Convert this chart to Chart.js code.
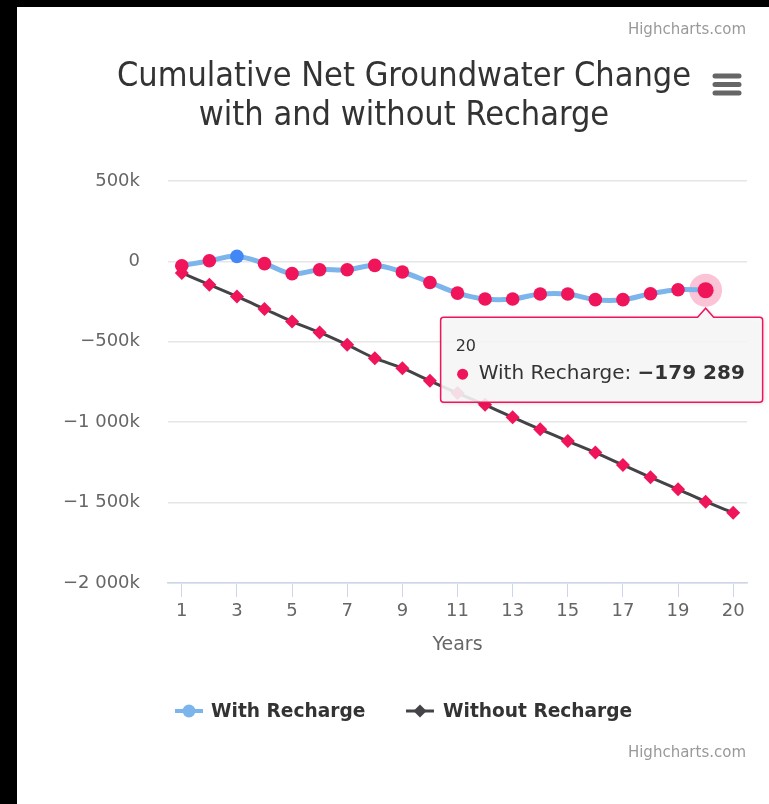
<!DOCTYPE html>
<html>
<head>
<meta charset="utf-8">
<title>Cumulative Net Groundwater Change</title>
<script src="https://cdn.jsdelivr.net/npm/chart.js@4/dist/chart.umd.min.js"></script>
<style>
  html, body { margin: 0; padding: 0; background: #000; width: 769px; height: 804px; overflow: hidden; }
  #wrap { position: absolute; left: 17px; top: 7px; width: 752px; height: 797px; background: #fff; }
  canvas { display: block; }
</style>
</head>
<body>
<div id="wrap"><canvas id="chart" width="752" height="797"></canvas></div>
<script>
// Year categories (index 20 has no category, so the axis shows its raw index)
const years = ['1','2','3','4','5','6','7','8','9','10','11','12','13','14','15','16','17','18','19','20'];

// Cumulative net change, in cubic units
const withRecharge = [-27000, 4000, 31000, -14000, -76000, -52000, -52000, -25000, -66000, -131000,
                      -197000, -234000, -234000, -203000, -203000, -238000, -238000, -201000, -176000, -179289];
const withoutRecharge = [-72000, -145000, -218000, -296000, -374000, -442000, -519000, -602000, -664000, -743000,
                         -819000, -892000, -969000, -1044000, -1117000, -1189000, -1266000, -1343000, -1417000, -1494000, -1563000];

const yTickValues = [500000, 0, -500000, -1000000, -1500000, -2000000];
const xTickValues = [0, 2, 4, 6, 8, 10, 12, 14, 16, 18, 20];

const titleLines = ['Cumulative Net Groundwater Change', 'with and without Recharge'];
const seriesNames = ['With Recharge', 'Without Recharge'];
const axisTitle = 'Years';
const creditText = 'Highcharts.com';

const selectedIndex = 2;   // point drawn in the "selected" blue
const hoverIndex = 19;     // point with the open tooltip

const PINK = '#f0145a';
const BLUE_LINE = '#7cb5ec';
const DARK_LINE = '#434348';
const FONT = '"DejaVu Sans", Verdana, sans-serif';

function groupDigits(n) {
  return String(n).replace(/\B(?=(\d{3})+(?!\d))/g, ' ');
}
function formatK(v) {
  if (v === 0) return '0';
  return (v < 0 ? '\u2212' : '') + groupDigits(Math.abs(v) / 1000) + 'k';
}
function formatFull(v) {
  return (v < 0 ? '\u2212' : '') + groupDigits(Math.abs(v));
}
function xLabel(i) {
  return i < years.length ? years[i] : String(i);
}

function roundedCallout(c, bx, by, bw, bh, r, ax, ay) {
  c.beginPath();
  c.moveTo(bx + r, by);
  c.lineTo(ax - 8, by);
  c.lineTo(ax, ay);
  c.lineTo(ax + 8, by);
  c.lineTo(bx + bw - r, by);
  c.arcTo(bx + bw, by, bx + bw, by + r, r);
  c.lineTo(bx + bw, by + bh - r);
  c.arcTo(bx + bw, by + bh, bx + bw - r, by + bh, r);
  c.lineTo(bx + r, by + bh);
  c.arcTo(bx, by + bh, bx, by + bh - r, r);
  c.lineTo(bx, by + r);
  c.arcTo(bx, by, bx + r, by, r);
  c.closePath();
}

// Halo behind the hovered point
const haloPlugin = {
  id: 'halo',
  beforeDatasetsDraw(chart) {
    const el = chart.getDatasetMeta(0).data[hoverIndex];
    const c = chart.ctx;
    c.save();
    c.fillStyle = 'rgba(240, 20, 90, 0.25)';
    c.beginPath();
    c.arc(el.x, el.y, 16.5, 0, Math.PI * 2);
    c.fill();
    c.restore();
  }
};

// Title, menu icon, credits, legend and tooltip
const decorPlugin = {
  id: 'decor',
  afterDraw(chart) {
    const c = chart.ctx;
    c.save();

    // title
    c.fillStyle = '#333333';
    c.textAlign = 'center';
    c.textBaseline = 'middle';
    c.font = '34px "DejaVu Sans Condensed", "DejaVu Sans", sans-serif';
    titleLines.forEach((t, i) => c.fillText(t, 387, 70 + i * 39));

    // context menu icon
    c.strokeStyle = '#666666';
    c.lineWidth = 5;
    c.lineCap = 'round';
    [69, 77.5, 86].forEach(y => {
      c.beginPath();
      c.moveTo(698, y);
      c.lineTo(722, y);
      c.stroke();
    });

    // credits
    c.fillStyle = '#999999';
    c.font = '15px ' + FONT;
    c.textAlign = 'right';
    c.fillText(creditText, 729, 23);
    c.fillText(creditText, 729, 746);

    // legend
    const ly = 704;
    c.lineCap = 'butt';
    c.strokeStyle = BLUE_LINE;
    c.lineWidth = 4;
    c.beginPath(); c.moveTo(158, ly); c.lineTo(186, ly); c.stroke();
    c.fillStyle = BLUE_LINE;
    c.beginPath(); c.arc(172, ly, 6.5, 0, Math.PI * 2); c.fill();

    c.strokeStyle = DARK_LINE;
    c.lineWidth = 3;
    c.beginPath(); c.moveTo(389, ly); c.lineTo(417, ly); c.stroke();
    c.fillStyle = DARK_LINE;
    c.beginPath();
    c.moveTo(403, ly - 6.5); c.lineTo(409.5, ly); c.lineTo(403, ly + 6.5); c.lineTo(396.5, ly);
    c.closePath(); c.fill();

    c.fillStyle = '#333333';
    c.font = 'bold 18.6px ' + FONT;
    c.textAlign = 'left';
    c.fillText(seriesNames[0], 194, ly + 1);
    c.fillText(seriesNames[1], 426, ly + 1);

    // tooltip
    const el = chart.getDatasetMeta(0).data[hoverIndex];
    const bx = el.x - 265, by = el.y + 27, bw = 322, bh = 85;
    c.save();
    c.shadowColor = 'rgba(0,0,0,0.16)';
    c.shadowBlur = 5;
    c.shadowOffsetX = 1;
    c.shadowOffsetY = 1;
    roundedCallout(c, bx, by, bw, bh, 3, el.x, el.y + 18);
    c.fillStyle = 'rgba(249,249,249,0.88)';
    c.fill();
    c.restore();
    roundedCallout(c, bx, by, bw, bh, 3, el.x, el.y + 18);
    c.strokeStyle = PINK;
    c.lineWidth = 1.5;
    c.stroke();

    c.fillStyle = '#333333';
    c.textBaseline = 'middle';
    c.font = '16px ' + FONT;
    c.fillText(years[hoverIndex], bx + 15, by + 30);

    c.fillStyle = PINK;
    c.beginPath(); c.arc(bx + 22, by + 57, 5.5, 0, Math.PI * 2); c.fill();

    c.fillStyle = '#333333';
    c.font = '20px ' + FONT;
    const lbl = seriesNames[0] + ': ';
    c.fillText(lbl, bx + 38, by + 57);
    const w = c.measureText(lbl).width;
    c.font = 'bold 20px ' + FONT;
    c.fillText(formatFull(withRecharge[hoverIndex]), bx + 38 + w, by + 57);

    c.restore();
  }
};

new Chart(document.getElementById('chart'), {
  type: 'line',
  data: {
    datasets: [
      {
        label: seriesNames[0],
        data: withRecharge.map((v, i) => ({ x: i, y: v })),
        borderColor: BLUE_LINE,
        borderWidth: 5,
        tension: 0.4,
        pointStyle: 'circle',
        pointRadius: withRecharge.map((_, i) => i === hoverIndex ? 8 : 6.8),
        pointBackgroundColor: withRecharge.map((_, i) => i === selectedIndex ? '#4287f5' : PINK),
        pointBorderWidth: 0
      },
      {
        label: seriesNames[1],
        data: withoutRecharge.map((v, i) => ({ x: i, y: v })),
        borderColor: DARK_LINE,
        borderWidth: 3,
        tension: 0.3,
        pointStyle: 'rectRot',
        pointRadius: 7,
        pointBackgroundColor: PINK,
        pointBorderWidth: 0
      }
    ]
  },
  options: {
    responsive: false,
    animation: false,
    events: [],
    layout: { autoPadding: false, padding: { left: 0, top: 174, right: 22, bottom: 131 } },
    plugins: {
      legend: { display: false },
      tooltip: { enabled: false },
      title: { display: false }
    },
    scales: {
      x: {
        type: 'linear',
        min: -0.5,
        max: 20.5,
        afterBuildTicks: s => { s.ticks = xTickValues.map(v => ({ value: v })); },
        afterFit: s => { s.height = 90; },
        grid: { drawOnChartArea: false, drawTicks: true, tickLength: 14, color: '#ccd6eb', lineWidth: 1 },
        border: { display: true, color: '#ccd6eb', width: 1.5 },
        ticks: {
          autoSkip: false,
          maxRotation: 0,
          padding: 4,
          color: '#666666',
          font: { family: FONT, size: 18 },
          callback: v => xLabel(v)
        },
        title: {
          display: true,
          text: axisTitle,
          color: '#666666',
          font: { family: FONT, size: 19 },
          padding: { top: 0, bottom: 17 }
        }
      },
      y: {
        min: -2000000,
        max: 500000,
        afterBuildTicks: s => { s.ticks = yTickValues.map(v => ({ value: v })); },
        afterFit: s => { s.width = 151; },
        grid: { drawTicks: false, color: '#e6e6e6', lineWidth: 1.5 },
        border: { display: false },
        ticks: {
          padding: 28,
          color: '#666666',
          font: { family: FONT, size: 18 },
          callback: v => formatK(v)
        }
      }
    }
  },
  plugins: [haloPlugin, decorPlugin]
});
</script>
</body>
</html>
